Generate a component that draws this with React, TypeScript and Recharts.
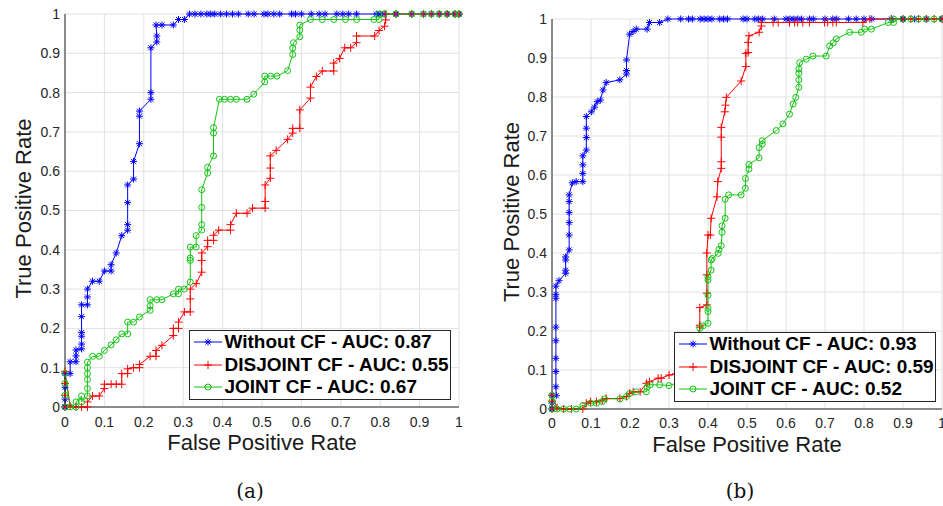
import { CartesianGrid, Legend, Line, LineChart, XAxis, YAxis } from 'recharts'

type Pt = [number, number]

const rateTicks = [0, 0.1, 0.2, 0.3, 0.4, 0.5, 0.6, 0.7, 0.8, 0.9, 1]

// panel (a)
const withoutCfA: Pt[] = [
  [0, 0], [0, 0.02], [0, 0.05], [0, 0.085], [0.013, 0.085], [0.013, 0.115], [0.028, 0.115],
  [0.028, 0.13], [0.028, 0.145], [0.042, 0.148], [0.042, 0.16], [0.042, 0.18], [0.042, 0.19],
  [0.042, 0.23], [0.042, 0.26], [0.057, 0.26], [0.057, 0.28], [0.057, 0.3], [0.07, 0.32],
  [0.087, 0.32], [0.1, 0.346], [0.117, 0.346], [0.117, 0.362], [0.13, 0.392], [0.144, 0.436],
  [0.159, 0.45], [0.159, 0.464], [0.159, 0.52], [0.159, 0.565], [0.174, 0.58], [0.174, 0.625],
  [0.189, 0.67], [0.189, 0.74], [0.189, 0.753], [0.218, 0.783], [0.218, 0.8], [0.218, 0.914],
  [0.233, 0.929], [0.233, 0.944], [0.231, 0.972], [0.246, 0.972], [0.275, 0.972], [0.288, 0.986],
  [0.303, 0.986], [0.316, 1], [0.33, 1], [0.345, 1], [0.36, 1], [0.37, 1], [0.38, 1], [0.395, 1],
  [0.41, 1], [0.425, 1], [0.44, 1], [0.465, 1], [0.48, 1], [0.505, 1], [0.515, 1], [0.53, 1],
  [0.545, 1], [0.575, 1], [0.585, 1], [0.6, 1], [0.625, 1], [0.645, 1], [0.66, 1], [0.69, 1],
  [0.705, 1], [0.72, 1], [0.74, 1], [0.79, 1], [0.8, 1], [0.81, 1], [0.84, 1], [0.88, 1],
  [0.91, 1], [0.93, 1], [0.95, 1], [0.97, 1], [0.99, 1], [1, 1],
]

const disjointCfA: Pt[] = [
  [0, 0], [0, 0.03], [0, 0.06], [0, 0.09], [0.013, 0.003], [0.028, 0], [0.042, 0], [0.057, 0],
  [0.057, 0.013], [0.07, 0.028], [0.087, 0.028], [0.1, 0.047], [0.1, 0.058], [0.117, 0.058],
  [0.13, 0.058], [0.144, 0.058], [0.144, 0.085], [0.159, 0.085], [0.159, 0.097], [0.174, 0.1],
  [0.189, 0.1], [0.189, 0.108], [0.216, 0.129], [0.231, 0.129], [0.231, 0.144], [0.246, 0.157],
  [0.275, 0.182], [0.275, 0.2], [0.288, 0.2], [0.288, 0.216], [0.303, 0.242], [0.318, 0.242],
  [0.318, 0.275], [0.318, 0.3], [0.333, 0.314], [0.347, 0.343], [0.347, 0.373], [0.347, 0.392],
  [0.362, 0.408], [0.362, 0.424], [0.377, 0.424], [0.377, 0.437], [0.39, 0.45], [0.42, 0.45],
  [0.42, 0.464], [0.435, 0.493], [0.462, 0.493], [0.476, 0.506], [0.508, 0.506], [0.508, 0.523],
  [0.508, 0.565], [0.521, 0.582], [0.521, 0.608], [0.521, 0.639], [0.536, 0.653], [0.565, 0.681],
  [0.578, 0.697], [0.578, 0.709], [0.596, 0.709], [0.596, 0.756], [0.623, 0.786], [0.623, 0.814],
  [0.638, 0.841], [0.653, 0.855], [0.682, 0.855], [0.682, 0.875], [0.697, 0.887], [0.71, 0.914],
  [0.725, 0.914], [0.74, 0.927], [0.74, 0.944], [0.786, 0.944], [0.797, 0.958], [0.811, 0.969],
  [0.814, 0.985], [0.814, 1], [0.84, 1], [0.88, 1], [0.91, 1], [0.93, 1], [0.95, 1], [0.97, 1],
  [0.99, 1], [1, 1],
]

const jointCfA: Pt[] = [
  [0, 0], [0, 0.03], [0, 0.06], [0, 0.086], [0.013, 0], [0.028, 0], [0.028, 0.013], [0.042, 0.028],
  [0.042, 0.013], [0.057, 0.028], [0.057, 0.047], [0.057, 0.07], [0.057, 0.085], [0.057, 0.1],
  [0.057, 0.114], [0.07, 0.129], [0.087, 0.129], [0.1, 0.144], [0.117, 0.158], [0.13, 0.171],
  [0.144, 0.186], [0.159, 0.186], [0.159, 0.216], [0.174, 0.216], [0.189, 0.229], [0.216, 0.246],
  [0.216, 0.258], [0.216, 0.273], [0.233, 0.273], [0.246, 0.273], [0.275, 0.288], [0.288, 0.288],
  [0.288, 0.3], [0.303, 0.3], [0.318, 0.318], [0.318, 0.373], [0.318, 0.379], [0.318, 0.407],
  [0.333, 0.407], [0.333, 0.436], [0.347, 0.45], [0.347, 0.464], [0.347, 0.508], [0.347, 0.553],
  [0.362, 0.595], [0.362, 0.61], [0.377, 0.639], [0.377, 0.697], [0.377, 0.711], [0.392, 0.783],
  [0.405, 0.783], [0.42, 0.783], [0.435, 0.783], [0.462, 0.783], [0.479, 0.796], [0.507, 0.827],
  [0.507, 0.842], [0.522, 0.842], [0.538, 0.842], [0.565, 0.856], [0.578, 0.897], [0.578, 0.913],
  [0.58, 0.927], [0.596, 0.942], [0.596, 0.959], [0.596, 0.972], [0.623, 0.986], [0.653, 0.986],
  [0.682, 0.986], [0.712, 0.986], [0.74, 0.986], [0.784, 0.986], [0.797, 0.986], [0.797, 1],
  [0.81, 1], [0.84, 1], [0.88, 1], [0.91, 1], [0.93, 1], [0.95, 1], [0.97, 1], [0.99, 1], [1, 1],
]

// panel (b)
const withoutCfB: Pt[] = [
  [0, 0], [0, 0.015], [0, 0.035], [0.011, 0.034], [0.01, 0.057], [0.01, 0.096], [0.01, 0.13],
  [0.01, 0.175], [0.01, 0.21], [0.01, 0.284], [0.01, 0.294], [0.01, 0.315], [0.018, 0.329],
  [0.035, 0.348], [0.035, 0.356], [0.035, 0.382], [0.035, 0.39], [0.044, 0.408], [0.044, 0.446],
  [0.044, 0.478], [0.044, 0.504], [0.044, 0.532], [0.044, 0.549], [0.052, 0.58], [0.062, 0.583],
  [0.079, 0.583], [0.079, 0.604], [0.079, 0.626], [0.079, 0.649], [0.088, 0.664], [0.088, 0.696],
  [0.088, 0.72], [0.088, 0.75], [0.101, 0.762], [0.109, 0.774], [0.116, 0.788], [0.124, 0.792],
  [0.131, 0.818], [0.139, 0.837], [0.174, 0.844], [0.191, 0.859], [0.191, 0.868], [0.191, 0.895],
  [0.199, 0.961], [0.208, 0.968], [0.216, 0.974], [0.244, 0.974], [0.25, 0.991], [0.276, 0.991],
  [0.297, 1], [0.33, 1], [0.35, 1], [0.36, 1], [0.38, 1], [0.39, 1], [0.4, 1], [0.41, 1],
  [0.43, 1], [0.44, 1], [0.45, 1], [0.49, 1], [0.5, 1], [0.52, 1], [0.53, 1], [0.54, 1],
  [0.57, 1], [0.6, 1], [0.61, 1], [0.62, 1], [0.63, 1], [0.64, 1], [0.66, 1], [0.67, 1],
  [0.7, 1], [0.72, 1], [0.73, 1], [0.76, 1], [0.78, 1], [0.8, 1], [0.82, 1], [0.87, 1],
  [0.9, 1], [0.93, 1], [0.96, 1], [1, 1],
]

const disjointCfB: Pt[] = [
  [0, 0], [0, 0.02], [0, 0.035], [0.013, 0.003], [0.03, 0], [0.05, 0], [0.079, 0], [0.088, 0.015],
  [0.099, 0.019], [0.114, 0.019], [0.129, 0.023], [0.139, 0.027], [0.174, 0.027], [0.191, 0.032],
  [0.199, 0.04], [0.208, 0.044], [0.226, 0.044], [0.242, 0.066], [0.25, 0.07], [0.272, 0.079],
  [0.28, 0.079], [0.3, 0.087], [0.318, 0.09], [0.34, 0.1], [0.36, 0.14], [0.375, 0.18],
  [0.379, 0.21], [0.379, 0.215], [0.379, 0.26], [0.397, 0.267], [0.397, 0.297], [0.397, 0.344],
  [0.397, 0.4], [0.4, 0.446], [0.406, 0.446], [0.408, 0.489], [0.423, 0.544], [0.425, 0.583],
  [0.434, 0.617], [0.434, 0.634], [0.434, 0.697], [0.434, 0.722], [0.443, 0.762], [0.445, 0.779],
  [0.447, 0.799], [0.485, 0.841], [0.497, 0.878], [0.497, 0.912], [0.503, 0.914], [0.503, 0.94],
  [0.505, 0.957], [0.531, 0.966], [0.537, 0.982], [0.537, 0.991], [0.567, 0.991], [0.58, 0.991],
  [0.609, 0.991], [0.622, 0.991], [0.63, 0.991], [0.643, 0.991], [0.66, 0.991], [0.699, 0.991],
  [0.707, 0.991], [0.72, 0.991], [0.729, 0.991], [0.797, 0.991], [0.815, 1], [0.87, 1],
  [0.9, 1], [0.92, 1], [0.94, 1], [0.96, 1], [0.98, 1], [1, 1],
]

const jointCfB: Pt[] = [
  [0, 0], [0, 0.02], [0, 0.035], [0.013, 0], [0.03, 0], [0.045, 0], [0.062, 0], [0.079, 0.009],
  [0.099, 0.015], [0.114, 0.015], [0.129, 0.019], [0.135, 0.026], [0.174, 0.026], [0.191, 0.032],
  [0.199, 0.04], [0.216, 0.044], [0.242, 0.044], [0.244, 0.056], [0.252, 0.062], [0.276, 0.062],
  [0.3, 0.06], [0.33, 0.07], [0.35, 0.12], [0.37, 0.18], [0.379, 0.207], [0.387, 0.213],
  [0.4, 0.22], [0.4, 0.25], [0.4, 0.258], [0.4, 0.292], [0.4, 0.331], [0.4, 0.339], [0.408, 0.356],
  [0.408, 0.382], [0.411, 0.386], [0.426, 0.399], [0.428, 0.409], [0.434, 0.419], [0.436, 0.453],
  [0.436, 0.47], [0.444, 0.489], [0.444, 0.538], [0.453, 0.549], [0.485, 0.549], [0.496, 0.566],
  [0.496, 0.591], [0.505, 0.615], [0.505, 0.627], [0.531, 0.644], [0.531, 0.67], [0.539, 0.679],
  [0.539, 0.688], [0.575, 0.714], [0.592, 0.731], [0.609, 0.756], [0.618, 0.782], [0.625, 0.799],
  [0.633, 0.825], [0.633, 0.844], [0.633, 0.861], [0.633, 0.872], [0.635, 0.888], [0.652, 0.897],
  [0.669, 0.905], [0.703, 0.905], [0.712, 0.931], [0.721, 0.939], [0.729, 0.949], [0.763, 0.966],
  [0.793, 0.966], [0.802, 0.974], [0.819, 0.974], [0.862, 0.991], [0.876, 0.991], [0.876, 1],
  [0.9, 1], [0.92, 1], [0.94, 1], [0.96, 1], [0.98, 1], [1, 1],
]

const legendLabelsA = ['Without CF - AUC: 0.87', 'DISJOINT CF - AUC: 0.55', 'JOINT CF - AUC: 0.67']
const legendLabelsB = ['Without CF - AUC: 0.93', 'DISJOINT CF - AUC: 0.59', 'JOINT CF - AUC: 0.52']

const SANS = '"Liberation Sans", Arial, Helvetica, sans-serif'
const SERIF = '"DejaVu Serif", "Liberation Serif", serif'

type MarkerKind = 'star' | 'plus' | 'circle'

const seriesStyle: { kind: MarkerKind; color: string }[] = [
  { kind: 'star', color: '#0000ff' },
  { kind: 'plus', color: '#ff0000' },
  { kind: 'circle', color: '#12c412' },
]

function Marker({ kind, cx, cy, color }: { kind: MarkerKind; cx: number; cy: number; color: string }) {
  if (kind === 'star') {
    return (
      <g stroke={color} strokeWidth={1}>
        <line x1={cx - 3.5} y1={cy} x2={cx + 3.5} y2={cy} />
        <line x1={cx} y1={cy - 3.5} x2={cx} y2={cy + 3.5} />
        <line x1={cx - 2.5} y1={cy - 2.5} x2={cx + 2.5} y2={cy + 2.5} />
        <line x1={cx - 2.5} y1={cy + 2.5} x2={cx + 2.5} y2={cy - 2.5} />
      </g>
    )
  }
  if (kind === 'plus') {
    return (
      <g stroke={color} strokeWidth={1}>
        <line x1={cx - 4} y1={cy} x2={cx + 4} y2={cy} />
        <line x1={cx} y1={cy - 4} x2={cx} y2={cy + 4} />
      </g>
    )
  }
  return <circle cx={cx} cy={cy} r={3} fill="none" stroke={color} strokeWidth={1} />
}

function makeDot(kind: MarkerKind, color: string) {
  return (props: any) => {
    const { cx, cy, index } = props
    if (cx == null || cy == null) return <g key={`m-${index}`} />
    return (
      <g key={`m-${index}`}>
        <Marker kind={kind} cx={cx} cy={cy} color={color} />
      </g>
    )
  }
}

function LegendBox({ labels }: { labels: string[] }) {
  return (
    <div
      style={{
        boxSizing: 'border-box',
        width: 262,
        height: 70,
        border: '1.5px solid #262626',
        background: '#fff',
        paddingLeft: 3.5,
        fontFamily: SANS,
        fontWeight: 'bold',
        fontSize: 19,
        color: '#000',
      }}
    >
      {labels.map((label, i) => (
        <div key={label} style={{ display: 'flex', alignItems: 'center', height: 22.5, whiteSpace: 'nowrap' }}>
          <svg width={28} height={14} style={{ marginRight: 3, flex: 'none' }}>
            <line x1={0} y1={7} x2={28} y2={7} stroke={seriesStyle[i].color} strokeWidth={1} />
            <Marker kind={seriesStyle[i].kind} cx={14} cy={7} color={seriesStyle[i].color} />
          </svg>
          <span>{label}</span>
        </div>
      ))}
    </div>
  )
}

interface RocPanelProps {
  series: Pt[][]
  labels: string[]
  width: number
  height: number
  plotHeight: number
  yAxisWidth: number
  marginTop: number
  marginRight: number
  xTickGap: number
  yTitleX: number
  legendLeft: number
  legendTop: number
}

function RocPanel({
  series,
  labels,
  width,
  height,
  plotHeight,
  yAxisWidth,
  marginTop,
  marginRight,
  xTickGap,
  yTitleX,
  legendLeft,
  legendTop,
}: RocPanelProps) {
  const tickStyle = { fontSize: 14, fill: '#262626', fontFamily: SANS }
  const xAxisHeight = height - marginTop - plotHeight
  return (
    <LineChart width={width} height={height} margin={{ top: marginTop, right: marginRight, bottom: 0, left: 0 }}>
      <CartesianGrid stroke="#e1e1e1" strokeWidth={1} />
      <XAxis
        type="number"
        dataKey="fpr"
        domain={[0, 1]}
        ticks={rateTicks}
        interval={0}
        tick={tickStyle}
        tickLine={false}
        tickSize={xTickGap - 4}
        tickMargin={4}
        axisLine={{ stroke: '#262626' }}
        height={xAxisHeight}
        label={(p: any) => {
          const vb = p.viewBox || {}
          return (
            <text
              x={vb.x + vb.width / 2}
              y={vb.y + 43}
              textAnchor="middle"
              fontSize={22}
              fontFamily={SANS}
              fill="#1a1a1a"
            >
              False Positive Rate
            </text>
          )
        }}
      />
      <YAxis
        type="number"
        dataKey="tpr"
        domain={[0, 1]}
        ticks={rateTicks}
        interval={0}
        width={yAxisWidth}
        tick={tickStyle}
        tickLine={false}
        tickSize={3}
        tickMargin={2}
        axisLine={{ stroke: '#262626' }}
        label={(p: any) => {
          const vb = p.viewBox || {}
          const cy = vb.y + vb.height / 2 - 2
          return (
            <text
              x={yTitleX}
              y={cy}
              transform={`rotate(-90 ${yTitleX} ${cy})`}
              textAnchor="middle"
              dominantBaseline="central"
              fontSize={22}
              fontFamily={SANS}
              fill="#1a1a1a"
            >
              True Positive Rate
            </text>
          )
        }}
      />
      {series.map((pts, i) => (
        <Line
          key={labels[i]}
          name={labels[i]}
          data={pts.map(([fpr, tpr]) => ({ fpr, tpr }))}
          dataKey="tpr"
          type="linear"
          stroke={seriesStyle[i].color}
          strokeWidth={1}
          dot={makeDot(seriesStyle[i].kind, seriesStyle[i].color)}
          activeDot={false}
          isAnimationActive={false}
        />
      ))}
      <Legend
        layout="vertical"
        align="center"
        verticalAlign="middle"
        wrapperStyle={{ left: legendLeft, top: legendTop, width: 262, height: 70 }}
        content={() => <LegendBox labels={labels} />}
      />
    </LineChart>
  )
}

export default function App() {
  return (
    <div style={{ position: 'absolute', left: 0, top: 0, width: 943, height: 506, background: '#fff', overflow: 'hidden' }}>
      <div style={{ position: 'absolute', left: 0, top: 0 }}>
        <RocPanel
          series={[withoutCfA, disjointCfA, jointCfA]}
          labels={legendLabelsA}
          width={470}
          height={460}
          plotHeight={393}
          yAxisWidth={65}
          marginTop={14}
          marginRight={11}
          xTickGap={10}
          yTitleX={23}
          legendLeft={189}
          legendTop={330}
        />
      </div>
      <div style={{ position: 'absolute', left: 470, top: 0 }}>
        <RocPanel
          series={[withoutCfB, disjointCfB, jointCfB]}
          labels={legendLabelsB}
          width={473}
          height={460}
          plotHeight={390}
          yAxisWidth={82}
          marginTop={19}
          marginRight={1}
          xTickGap={9}
          yTitleX={41}
          legendLeft={204}
          legendTop={332}
        />
      </div>
      <div style={{ position: 'absolute', left: 220, top: 478, width: 60, textAlign: 'center', fontFamily: SERIF, fontSize: 20, lineHeight: '26px', color: '#111' }}>
        (a)
      </div>
      <div style={{ position: 'absolute', left: 710, top: 478, width: 60, textAlign: 'center', fontFamily: SERIF, fontSize: 20, lineHeight: '26px', color: '#111' }}>
        (b)
      </div>
    </div>
  )
}
